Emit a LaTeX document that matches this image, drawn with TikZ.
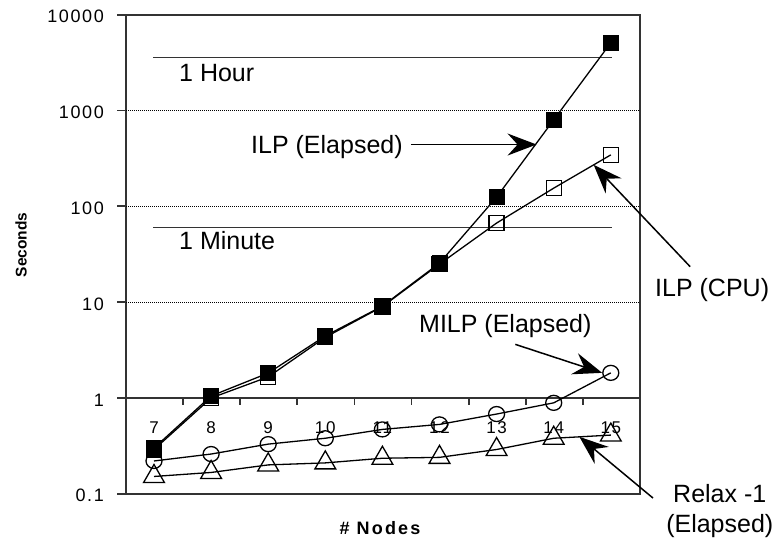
\documentclass[tikz,border=0pt]{standalone}
\usepackage{fontspec}
\setmainfont{Liberation Sans}
\usetikzlibrary{arrows.meta, positioning, shapes.geometric, calc}

\begin{document}
\begin{tikzpicture}[x=1pt, y=95.8pt,
    axisline/.style={line width=1.8pt, black!80},
    gridline/.style={line width=0.6pt, dash pattern=on 1pt off 1pt},
    limitline/.style={line width=1.5pt, black!80},
    series/.style={line width=1.3pt},
    elapsed/.style={draw, fill=black, minimum size=15pt, inner sep=0pt, line width=1pt},
    cpu/.style={draw, minimum size=15pt, inner sep=0pt, line width=1.3pt},
    milp/.style={draw, ellipse, minimum width=16pt, minimum height=15pt, inner sep=0pt, line width=1.3pt},
    relax/.style={draw, regular polygon, regular polygon sides=3, minimum size=24pt, inner sep=0pt, line width=1.3pt},
    callout/.style={line width=1.5pt, -{Stealth[length=29pt, width=22pt, inset=10pt]}},
    lbl/.style={inner sep=0pt, font=\fontsize{25}{30}\selectfont},
    ticklbl/.style={inner sep=0pt, font=\fontsize{18}{21}\selectfont\addfontfeature{LetterSpace=9}},
    catlbl/.style={inner sep=0pt, font=\fontsize{17}{20}\selectfont\addfontfeature{LetterSpace=10}},
    axistitle/.style={font=\bfseries\fontsize{18}{21}\selectfont\addfontfeature{LetterSpace=12}}]

  \useasboundingbox (0,-142pt) rectangle (777,398pt);

  % plot frame, log scale from 0.1 to 10000
  \draw[axisline] (126,-1) rectangle (640,4);
  \foreach \d in {1,2,3}
    \draw[gridline] (126,\d) -- (640,\d);
  \draw[axisline] (126,0) -- (640,0);
  \foreach \d/\t in {-1/0.1, 0/1, 1/10, 2/100, 3/1000, 4/10000} {
    \draw[axisline] (117,\d) -- (126,\d);
    \node[ticklbl, anchor=east, yshift=-2pt] (ytick\d) at (104,\d) {\t};
  }
  \foreach \k in {1,...,8}
    \draw[axisline] ({126+57.1*\k},0) -- ++(0,-7pt);
  \foreach \n in {7,...,15}
    \node[catlbl, yshift=-29.5pt] (cat\n) at ({154+57.1*(\n-7)},0) {\n};

  % one hour / one minute
  \draw[limitline] (153,{log10(3600)}) -- (612,{log10(3600)});
  \draw[limitline] (153,{log10(60)}) -- (612,{log10(60)});
  \node[lbl, anchor=base west] (hourLbl) at (179,316pt) {1 Hour};
  \node[lbl, anchor=base west] (minuteLbl) at (179,148pt) {1 Minute};

  % series
  \foreach \n/\v in {7/0.29, 8/1.0, 9/1.66, 10/4.3, 11/9.0, 12/25, 13/67, 14/155, 15/345}
    \node[cpu] (ilpc\n) at ({154+57.1*(\n-7)},{log10(\v)}) {};
  \foreach \n/\v in {7/0.30, 8/1.05, 9/1.82, 10/4.44, 11/9.1, 12/25.6, 13/125, 14/800, 15/5100}
    \node[elapsed] (ilpe\n) at ({154+57.1*(\n-7)},{log10(\v)}) {};
  \foreach \n/\v in {7/0.22, 8/0.26, 9/0.33, 10/0.38, 11/0.47, 12/0.53, 13/0.68, 14/0.89, 15/1.83}
    \node[milp] (milp\n) at ({154+57.1*(\n-7)},{log10(\v)}) {};
  \foreach \n/\v in {7/0.15, 8/0.166, 9/0.20, 10/0.21, 11/0.235, 12/0.24, 13/0.29, 14/0.38, 15/0.41}
    \node[relax] (relax\n) at ({154+57.1*(\n-7)},{log10(\v)}) {};

  \draw[series] (ilpc7.center) \foreach \n in {8,...,15} { -- (ilpc\n.center) };
  \draw[series] (ilpe7.center) \foreach \n in {8,...,15} { -- (ilpe\n.center) };
  \draw[series] (milp7.center) \foreach \n in {8,...,15} { -- (milp\n.center) };
  \draw[series] (relax7.center) \foreach \n in {8,...,15} { -- (relax\n.center) };

  % callouts
  \coordinate (ilpeTip) at ($(ilpe13.center)!0.7!(ilpe14.center)$);
  \node[lbl, anchor=base west] (ilpeLbl) at (251,244pt) {ILP (Elapsed)};
  \draw[callout, shorten <=8pt] ([yshift=3pt]ilpeLbl.east) -- ([yshift=3pt]ilpeLbl.east -| ilpeTip);

  \coordinate (ilpcTip) at ($(ilpc14.center)!0.7!(ilpc15.center)$);
  \node[lbl, anchor=base west] (ilpcLbl) at (655,101pt) {ILP (CPU)};
  \draw[callout] ([shift={(-22pt,12pt)}]ilpcLbl.north) -- (ilpcTip);

  \node[lbl, anchor=base west] (milpLbl) at (419,65pt) {MILP (Elapsed)};
  \draw[callout] ([shift={(10pt,-6pt)}]milpLbl.south) -- (milp15.west);

  \coordinate (relaxTip) at ($(relax14.center)!0.45!(relax15.center)$);
  \node[lbl, anchor=base west] (relaxLbl) at (673,-105pt) {Relax -1};
  \node[lbl, below=11pt of relaxLbl] (relaxSub) {(Elapsed)};
  \draw[callout] ([shift={(-20pt,-4pt)}]relaxLbl.west) -- (relaxTip);

  % axis titles
  \node[font=\bfseries\fontsize{15.5}{18}\selectfont, rotate=90] (yaxisLbl) at (21,153pt) {Seconds};
  \node[axistitle] (xaxisLbl) at (380,-130pt) {\# Nodes};
\end{tikzpicture}
\end{document}
